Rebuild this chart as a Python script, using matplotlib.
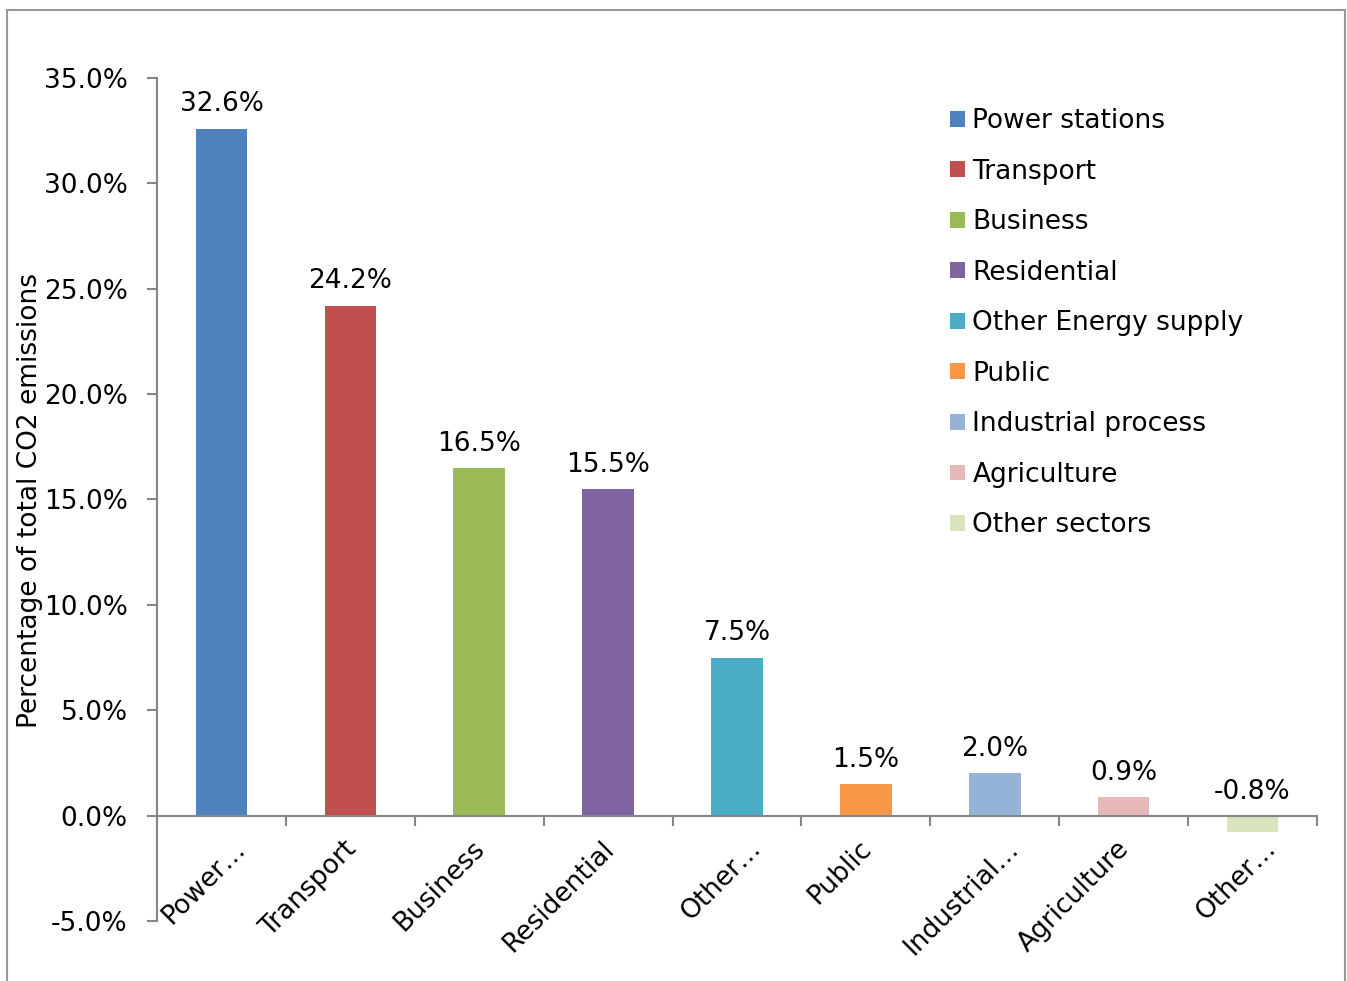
import numpy as np
import matplotlib
matplotlib.use('Agg')
import matplotlib.pyplot as plt
import matplotlib.transforms as mtransforms
from matplotlib.patches import Rectangle
from matplotlib.ticker import FuncFormatter, FixedLocator

# Data
sectors = ['Power stations', 'Transport', 'Business', 'Residential',
           'Other Energy supply', 'Public', 'Industrial process',
           'Agriculture', 'Other sectors']
tick_labels = ['Power…', 'Transport', 'Business', 'Residential', 'Other…',
               'Public', 'Industrial…', 'Agriculture', 'Other…']
shares = [32.6, 24.2, 16.5, 15.5, 7.5, 1.5, 2.0, 0.9, -0.8]
colors = ['#4F81BD', '#C0504D', '#9BBB59', '#8064A2', '#4BACC6',
          '#F79646', '#95B3D7', '#E6B9B8', '#D7E4BD']

W, H = 1347, 981
fig = plt.figure(figsize=(W / 100, H / 100), dpi=100)
plt.rcParams['font.family'] = ['DejaVu Sans']
FS = 19
axis_col = '#868686'

# outer chart border (bottom edge runs off the picture)
fig.patches.append(Rectangle((7 / W, -0.05), (1345 - 7) / W, 1.05 - 10 / H,
                             transform=fig.transFigure, fill=False,
                             edgecolor='#999999', linewidth=1.5))

ax = fig.add_axes([157 / W, 1 - 921 / H, (1317 - 157) / W, (921 - 78) / H])

x = np.arange(len(shares))
ax.bar(x, shares, width=0.4, color=colors, label=sectors, zorder=2)

for xi, v in zip(x, shares):
    ax.annotate(f'{v:.1f}%', (xi, max(v, 0)), xytext=(0, 8),
                textcoords='offset points', ha='center', va='bottom',
                fontsize=FS)

ax.set_xlim(-0.5, len(shares) - 0.5)
ax.set_ylim(-5, 35)
ax.set_yticks(np.arange(-5, 35.1, 5))
ax.yaxis.set_major_formatter(FuncFormatter(lambda v, p: f'{v:.1f}%'))

for s in ['top', 'right']:
    ax.spines[s].set_visible(False)
ax.spines['bottom'].set_position(('data', 0))
for s in ['left', 'bottom']:
    ax.spines[s].set_color(axis_col)
    ax.spines[s].set_linewidth(1.5)

ax.set_xticks(x)
ax.set_xticklabels(tick_labels, rotation=45, ha='right', va='center',
                   rotation_mode='anchor', fontsize=FS)
ax.xaxis.set_minor_locator(FixedLocator(np.arange(-0.5, len(shares), 1)))
ax.tick_params(axis='x', which='major', length=0, pad=21)
ax.tick_params(axis='x', which='minor', length=7, width=1.5, color=axis_col,
               direction='out')
ax.tick_params(axis='y', length=7, width=1.5, color=axis_col, pad=14,
               labelsize=FS)
# Excel pushes the truncated labels a bit further right
for lab in ax.get_xticklabels():
    dx = 20 if lab.get_text().endswith('…') else 2
    lab.set_transform(lab.get_transform() + mtransforms.ScaledTranslation(
        dx / 100, 0, fig.dpi_scale_trans))

fig.text(30 / W, 1 - 500 / H, 'Percentage of total CO2 emissions',
         rotation=90, ha='center', va='center', fontsize=FS)

ax.legend(loc='upper left', bbox_to_anchor=(950 / W, 1 - 108 / H),
          bbox_transform=fig.transFigure, frameon=False, fontsize=FS,
          handlelength=0.55, handleheight=0.55, handletextpad=0.3,
          labelspacing=0.93, borderpad=0, borderaxespad=0)

fig.savefig('out.png', dpi=100)
